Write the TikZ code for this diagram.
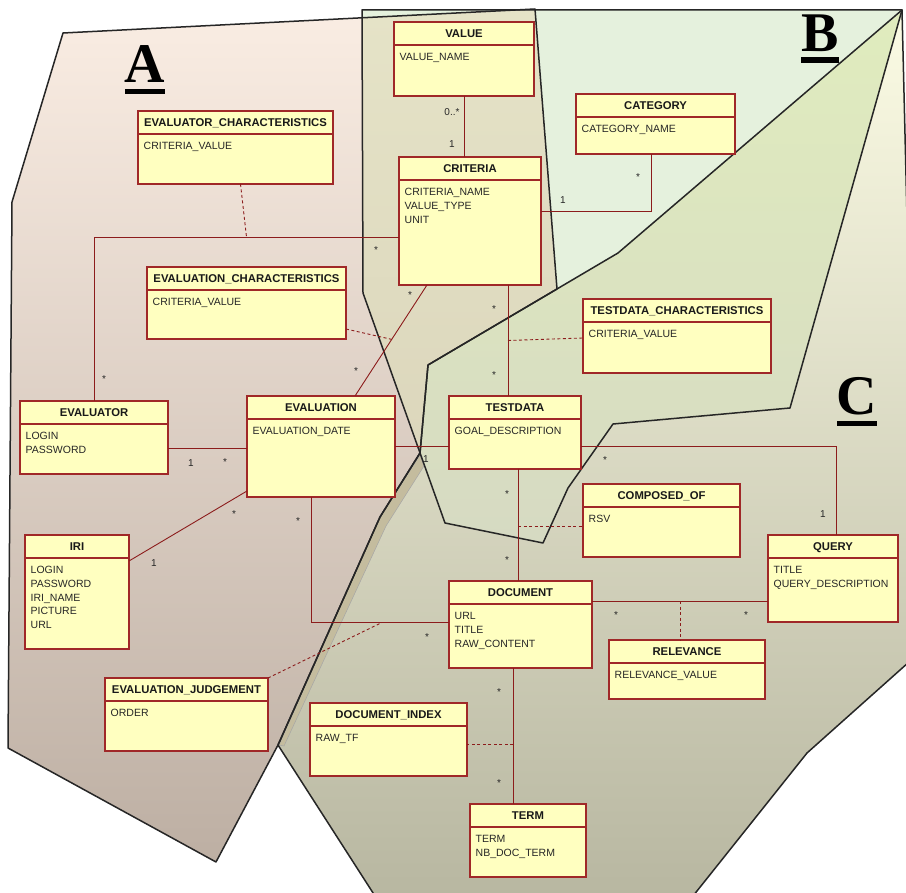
\documentclass[tikz,border=0pt]{standalone}
\usepackage{fontspec}
\newfontfamily\umlfont{Liberation Sans}
\newfontfamily\zonefont{Liberation Serif}
\usetikzlibrary{calc}

\definecolor{boxfill}{RGB}{255,255,192}
\definecolor{boxedge}{RGB}{160,40,40}
\definecolor{assocred}{RGB}{140,28,28}
\definecolor{zoneAtop}{RGB}{250,237,227}
\definecolor{zoneAbot}{RGB}{189,175,163}
\definecolor{zoneB}{RGB}{229,241,221}
\definecolor{zoneCtop}{RGB}{251,251,228}
\definecolor{zoneCbot}{RGB}{184,183,161}
\definecolor{zoneABtop}{RGB}{229,227,199}
\definecolor{zoneABbot}{RGB}{218,212,186}
\definecolor{zoneBCtop}{RGB}{224,236,190}
\definecolor{zoneBCbot}{RGB}{214,218,194}
\definecolor{sliverfill}{RGB}{196,188,158}

% zone outlines (pixel-like units, y grows downwards)
\newcommand{\zoneApath}{(63,33) -- (535,9) -- (557,289) -- (428,365) -- (420,453) -- (380,517) -- (278,745) -- (216,862) -- (8,748) -- (12,202) -- cycle}
\newcommand{\zoneBpath}{(362,10) -- (902,10) -- (790,408) -- (613,424) -- (568,488) -- (543,543) -- (445,523) -- (363,293) -- cycle}
\newcommand{\zoneCpath}{(902,10) -- (909,300) -- (909,662) -- (807,753) -- (693,896) -- (375,896) -- (278,745) -- (380,517) -- (420,453) -- (428,365) -- (618,253) -- cycle}

% one UML class: name, x, y, width, height, title, attributes
\newcommand{\umlclass}[7]{%
  \node[classbox, minimum width=#4pt, minimum height=#5pt] (#1) at (#2,#3) {};
  \draw[classrule] ([yshift=-23pt]#1.north west) -- ([yshift=-23pt]#1.north east);
  \node[classtitle] (#1-title) at ([yshift=-15.5pt]#1.north) {#6};
  \node[classattr] (#1-attrs) at ([xshift=5.5pt,yshift=-38.5pt]#1.north west) {\begin{tabular}[t]{@{}l@{}}#7\end{tabular}};
}
% multiplicity label: name, x, baseline y, text
\newcommand{\multtag}[4]{\node[multlabel] (#1) at (#2,#3) {#4};}

\begin{document}
\begin{tikzpicture}[x=1pt, y=-1pt,
  classbox/.style={draw=boxedge, fill=boxfill, line width=1.1pt, inner sep=0pt, outer sep=0pt, anchor=north west},
  classrule/.style={draw=boxedge, line width=1.1pt},
  classtitle/.style={font=\umlfont\bfseries\fontsize{11.3}{13}\selectfont, inner sep=0pt, anchor=base, text=black!90},
  classattr/.style={font=\umlfont\fontsize{10.5}{13.8}\selectfont, inner sep=0pt, anchor=base west, text=black!85},
  assoc/.style={draw=assocred, line width=0.9pt},
  assocdash/.style={draw=assocred, line width=0.9pt, dash pattern=on 3pt off 2.5pt},
  multlabel/.style={font=\umlfont\fontsize{10}{12}\selectfont, inner sep=0pt, anchor=base, text=black!85},
  zoneline/.style={draw=black!85, line width=1.5pt, line join=round},
  zoneletter/.style={font=\zonefont\bfseries\fontsize{56}{56}\selectfont, inner sep=0pt, anchor=base}]

\useasboundingbox (0,0) rectangle (906,893);
\clip (0,0) rectangle (906,893);

% ---- zone fills ----
\shade[top color=zoneAtop, bottom color=zoneAbot] \zoneApath;
\shade[top color=zoneCtop, bottom color=zoneCbot] \zoneCpath;
\fill[zoneB] \zoneBpath;
\begin{scope}
  \clip \zoneApath;
  \shade[top color=zoneABtop, bottom color=zoneABbot] \zoneBpath;
\end{scope}
\begin{scope}
  \clip \zoneCpath;
  \shade[top color=zoneBCtop, bottom color=zoneBCbot] \zoneBpath;
\end{scope}
\fill[sliverfill, draw=black!35, line width=0.5pt] (420,455) -- (424,466) -- (386,526) -- (284,746) -- (279,745) -- (380,517) -- cycle;

% ---- zone outlines ----
\draw[zoneline] \zoneApath;
\draw[zoneline] \zoneBpath;
\draw[zoneline] \zoneCpath;

% ---- zone letters ----
\node[zoneletter] (labA) at (145,83) {A};
\fill ([yshift=-6pt]labA.base west) rectangle ([yshift=-11pt]labA.base east);
\node[zoneletter] (labB) at (820,52) {B};
\fill ([yshift=-5pt]labB.base west) rectangle ([yshift=-11pt]labB.base east);
\node[zoneletter] (labC) at (857,415) {C};
\fill ([yshift=-6pt]labC.base west) rectangle ([yshift=-11pt]labC.base east);

% ---- classes ----
\umlclass{value}{394}{22}{140}{74}{VALUE}{VALUE\_NAME}
\umlclass{criteria}{399}{157}{142}{128}{CRITERIA}{CRITERIA\_NAME\\VALUE\_TYPE\\UNIT}
\umlclass{category}{576}{94}{159}{60}{CATEGORY}{CATEGORY\_NAME}
\umlclass{evalchar}{138}{111}{195}{73}{EVALUATOR\_CHARACTERISTICS}{CRITERIA\_VALUE}
\umlclass{evcchar}{147}{267}{199}{72}{EVALUATION\_CHARACTERISTICS}{CRITERIA\_VALUE}
\umlclass{tdchar}{583}{299}{188}{74}{TESTDATA\_CHARACTERISTICS}{CRITERIA\_VALUE}
\umlclass{evaluator}{20}{401}{148}{73}{EVALUATOR}{LOGIN\\PASSWORD}
\umlclass{evaluation}{247}{396}{148}{101}{EVALUATION}{EVALUATION\_DATE}
\umlclass{iri}{25}{535}{104}{114}{IRI}{LOGIN\\PASSWORD\\IRI\_NAME\\PICTURE\\URL}
\umlclass{testdata}{449}{396}{132}{73}{TESTDATA}{GOAL\_DESCRIPTION}
\umlclass{composed}{583}{484}{157}{73}{COMPOSED\_OF}{RSV}
\umlclass{query}{768}{535}{130}{87}{QUERY}{TITLE\\QUERY\_DESCRIPTION}
\umlclass{document}{449}{581}{143}{87}{DOCUMENT}{URL\\TITLE\\RAW\_CONTENT}
\umlclass{relevance}{609}{640}{156}{59}{RELEVANCE}{RELEVANCE\_VALUE}
\umlclass{ejudge}{105}{678}{163}{73}{EVALUATION\_JUDGEMENT}{ORDER}
\umlclass{docindex}{310}{703}{157}{73}{DOCUMENT\_INDEX}{RAW\_TF}
\umlclass{term}{470}{804}{116}{73}{TERM}{TERM\\NB\_DOC\_TERM}

% ---- associations ----
\draw[assoc] (value.south) -- (value.south |- criteria.north);
\draw[assoc] ([yshift=10pt]criteria.east) -| ([xshift=-4.5pt]category.south);
\draw[assoc] ([yshift=-16pt]criteria.west) -| coordinate[pos=0.25] (evalr-join) (evaluator.north);
\draw[assocdash] ([xshift=5pt]evalchar.south) -- (evalr-join);
\draw[assoc] ([xshift=-43pt]criteria.south) -- coordinate[pos=0.49] (evc-join) ([xshift=34pt]evaluation.north);
\draw[assocdash] ([yshift=10pt]evcchar.south east) -- (evc-join);
\draw[assoc] ([xshift=38pt]criteria.south) -- coordinate[pos=0.5] (tdc-join) ([xshift=-7pt]testdata.north);
\draw[assocdash] (tdc-join) -- ([yshift=-2pt]tdchar.west);
\draw[assoc] ([yshift=-10.5pt]evaluator.east) coordinate (ee-start) -- (ee-start -| evaluation.west);
\draw[assoc] ([yshift=31pt]iri.east) -- ([yshift=-44.5pt]evaluation.west);
\draw[assoc] (evaluation.east) -- (evaluation.east -| testdata.west);
\draw[assoc] ([xshift=-10pt]evaluation.south) |- coordinate[pos=0.757] (ej-join) ([yshift=2pt]document.west);
\draw[assocdash] (ejudge.north east) -- (ej-join);
\draw[assoc] ([yshift=-13.5pt]testdata.east) -| ([xshift=3pt]query.north);
\draw[assoc] ([xshift=3pt]testdata.south) -- coordinate[pos=0.51] (co-join) ([xshift=-2.5pt]document.north);
\draw[assocdash] (co-join) -- (co-join -| composed.west);
\draw[assoc] ([yshift=23.5pt]document.east) coordinate (dq-start) -- coordinate[pos=0.5] (rel-join) (dq-start -| query.west);
\draw[assocdash] (rel-join) -- (rel-join |- relevance.north);
\draw[assoc] ([xshift=-7.5pt]document.south) -- coordinate[pos=0.56] (di-join) ([xshift=-15pt]term.north);
\draw[assocdash] (di-join) -- (di-join -| docindex.east);

% ---- multiplicities ----
\multtag{m1}{452}{116}{0..*}
\multtag{m2}{452}{148}{1}
\multtag{m3}{563}{204}{1}
\multtag{m4}{638}{181}{*}
\multtag{m5}{376}{254}{*}
\multtag{m6}{104}{383}{*}
\multtag{m7}{410}{299}{*}
\multtag{m8}{356}{375}{*}
\multtag{m9}{494}{313}{*}
\multtag{m10}{494}{379}{*}
\multtag{m11}{191}{467}{1}
\multtag{m12}{225}{466}{*}
\multtag{m13}{154}{566}{1}
\multtag{m14}{234}{518}{*}
\multtag{m15}{426}{463}{1}
\multtag{m16}{298}{525}{*}
\multtag{m17}{427}{640}{*}
\multtag{m18}{605}{464}{*}
\multtag{m19}{823}{518}{1}
\multtag{m20}{507}{497}{*}
\multtag{m21}{507}{563}{*}
\multtag{m22}{616}{618}{*}
\multtag{m23}{746}{618}{*}
\multtag{m24}{499}{695}{*}
\multtag{m25}{499}{786}{*}
\end{tikzpicture}
\end{document}
